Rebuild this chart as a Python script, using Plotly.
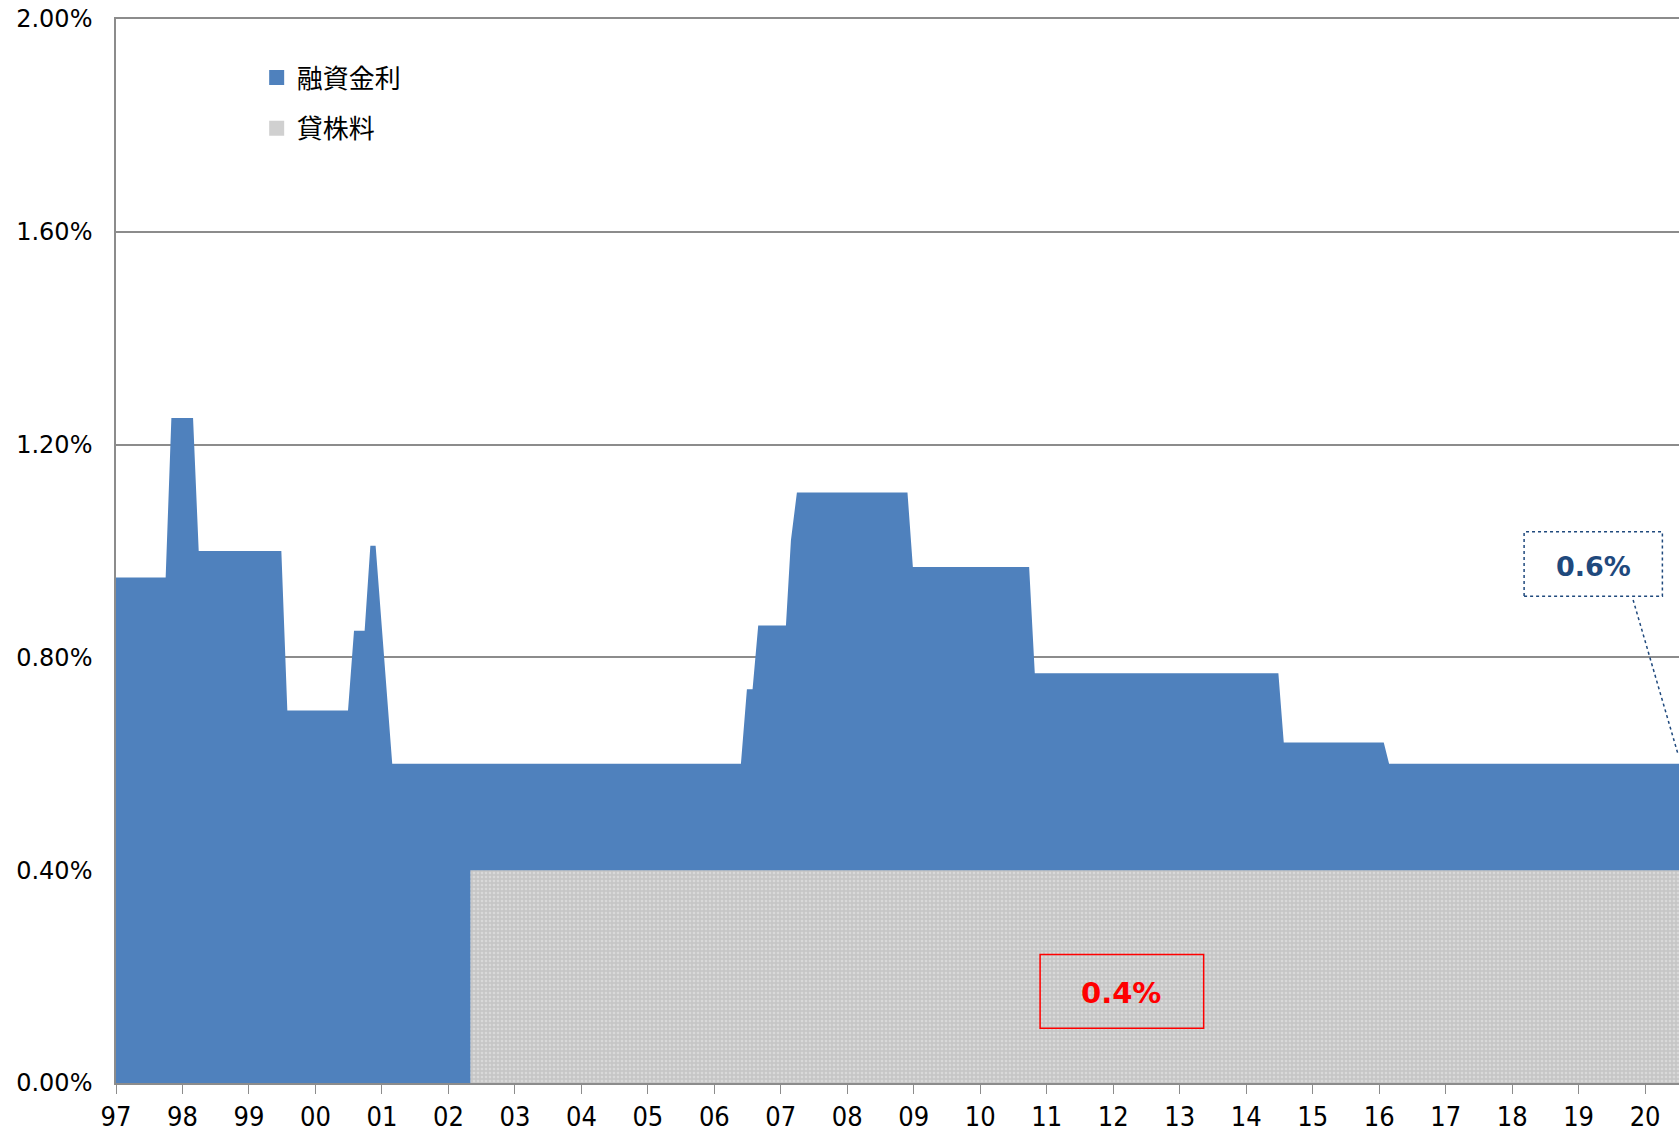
import plotly.graph_objects as go

# 融資金利 (margin loan rate), % per year, step changes over time
rate_years = [1997.0, 1997.747, 1997.833, 1998.159, 1998.244, 1999.487, 1999.577,
              2000.490, 2000.580, 2000.740, 2000.826, 2000.905, 2001.155, 2006.40,
              2006.49, 2006.575, 2006.66, 2007.077, 2007.152, 2007.242, 2008.905,
              2008.986, 2010.735, 2010.82, 2014.484, 2014.565, 2016.069, 2016.149, 2020.6]
rate_values = [0.95, 0.95, 1.25, 1.25, 1.00, 1.00, 0.70,
               0.70, 0.85, 0.85, 1.01, 1.01, 0.60, 0.60,
               0.74, 0.74, 0.86, 0.86, 1.02, 1.11, 1.11,
               0.97, 0.97, 0.77, 0.77, 0.64, 0.64, 0.60, 0.60]

# 貸株料 (stock lending fee)
lending_years = [2002.33, 2020.6]
lending_values = [0.40, 0.40]

tick_years = list(range(1997, 2021))
tick_labels = [f"{y % 100:02d}" for y in tick_years]
y_ticks = [0.0, 0.4, 0.8, 1.2, 1.6, 2.0]
y_labels = [f"{v:.2f}%" for v in y_ticks]

BLUE = "#4F81BD"
GRID = "#8C8C8C"
NUM_FONT = "Verdana, DejaVu Sans, sans-serif"
NARROW_FONT = "Liberation Sans Narrow, DejaVu Sans Condensed, sans-serif"
JP_FONT = "Noto Sans CJK JP, sans-serif"

fig = go.Figure()
fig.add_trace(go.Scatter(
    x=rate_years, y=rate_values, mode="lines", fill="tozeroy",
    line={"width": 0, "color": BLUE}, fillcolor=BLUE,
    showlegend=False, hoverinfo="skip",
))
fig.add_trace(go.Scatter(
    x=lending_years, y=lending_values, mode="lines", fill="tozeroy",
    line={"width": 0, "color": "#cfcfcf"},
    fillpattern={"shape": ".", "bgcolor": "#c6c6c6", "fgcolor": "#ececec",
                 "size": 4, "solidity": 0.35},
    showlegend=False, hoverinfo="skip",
))

# legend entries as square markers
fig.add_trace(go.Scatter(
    x=[None], y=[None], mode="markers", name="融資金利",
    marker={"symbol": "square", "size": 15, "color": BLUE},
    legendgroup="a",
))
fig.add_trace(go.Scatter(
    x=[None], y=[None], mode="markers", name="貸株料",
    marker={"symbol": "square", "size": 15, "color": "#d0d0d0"},
    legendgroup="b",
))

# 0.4% label box
fig.add_shape(type="rect", x0=2010.90, x1=2013.36, y0=0.1027, y1=0.2417,
              xref="x", yref="y", line={"color": "#FF0000", "width": 1.5})
fig.add_annotation(x=2012.12, y=0.169, xref="x", yref="y", text="<b>0.4%</b>",
                   showarrow=False, font={"family": NUM_FONT, "size": 29, "color": "#FF0000"})

# 0.6% label box with dotted leader
fig.add_shape(type="rect", x0=2018.18, x1=2020.26, y0=0.915, y1=1.036,
              xref="x", yref="y", line={"color": "#1F497D", "width": 1.5, "dash": "dot"})
fig.add_shape(type="line", x0=2019.82, y0=0.908, x1=2020.50, y1=0.616,
              xref="x", yref="y", line={"color": "#1F497D", "width": 1.5, "dash": "dot"})
fig.add_annotation(x=2019.22, y=0.970, xref="x", yref="y", text="<b>0.6%</b>",
                   showarrow=False, font={"family": NUM_FONT, "size": 27, "color": "#1F497D"})

fig.update_layout(
    width=1679, height=1135,
    margin={"l": 116, "r": 0, "t": 19, "b": 52},
    paper_bgcolor="white", plot_bgcolor="white",
    font={"family": NUM_FONT, "size": 24, "color": "#000000"},
    legend={
        "x": 0.090, "y": 0.967, "xanchor": "left", "yanchor": "top",
        "font": {"family": JP_FONT, "size": 26, "color": "#000000"},
        "traceorder": "grouped", "tracegroupgap": 14,
        "itemwidth": 30, "bgcolor": "rgba(0,0,0,0)",
    },
    hovermode=False,
)
fig.update_xaxes(
    range=[1997, 2020.51], tickvals=tick_years, ticktext=tick_labels,
    showgrid=False, zeroline=False, automargin=False,
    showline=True, linecolor=GRID, linewidth=1.5, mirror=True,
    ticks="outside", ticklen=9, tickcolor=GRID, tickwidth=1.2,
    tickfont={"family": NARROW_FONT, "size": 27},
)
fig.update_yaxes(
    range=[0, 2], tickvals=y_ticks, ticktext=y_labels,
    showgrid=True, gridcolor=GRID, gridwidth=1.5, zeroline=False, automargin=False,
    showline=True, linecolor=GRID, linewidth=1.5,
    ticks="", ticklabelstandoff=17,
    tickfont={"family": NUM_FONT, "size": 24},
)

# drop the default 8px page margin so the figure fills the window exactly
fig.write_html(
    "out.html",
    config={"displayModeBar": False},
    post_script="document.body.style.margin='0';document.body.style.overflow='hidden';",
)
